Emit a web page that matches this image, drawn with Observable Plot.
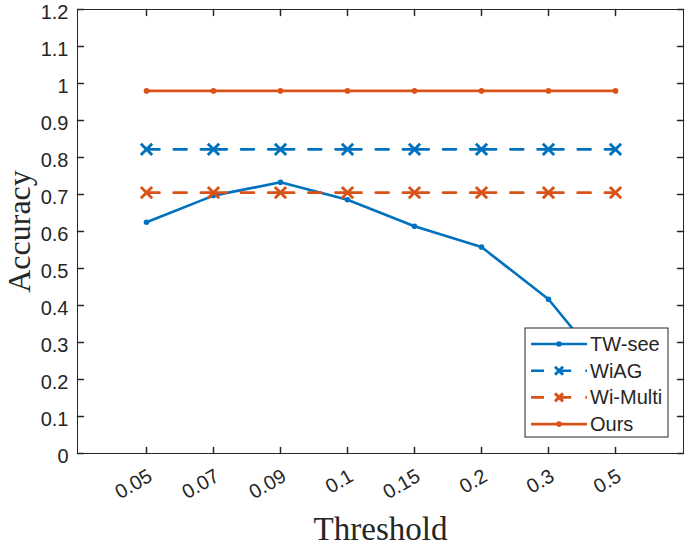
<!DOCTYPE html>
<html><head><meta charset="utf-8">
<script src="https://cdn.jsdelivr.net/npm/d3@7"></script>
<script src="https://cdn.jsdelivr.net/npm/@observablehq/plot@0.6"></script>
<style>html,body{margin:0;padding:0;background:#fff;}</style>
</head><body><div id="chart"></div>
<script>
// ---- data ----
const thresholds = ["0.05", "0.07", "0.09", "0.1", "0.15", "0.2", "0.3", "0.5"];
const twSee   = [0.625, 0.697, 0.733, 0.686, 0.614, 0.558, 0.417, 0.196];
const wiAG    = [0.822, 0.822, 0.822, 0.822, 0.822, 0.822, 0.822, 0.822];
const wiMulti = [0.705, 0.705, 0.705, 0.705, 0.705, 0.705, 0.705, 0.705];
const ours    = [0.98, 0.98, 0.98, 0.98, 0.98, 0.98, 0.98, 0.98];
const seriesNames = ["TW-see", "WiAG", "Wi-Multi", "Ours"];
const yTicks = [0, 0.1, 0.2, 0.3, 0.4, 0.5, 0.6, 0.7, 0.8, 0.9, 1, 1.1, 1.2];
const yLabels = ["0", "0.1", "0.2", "0.3", "0.4", "0.5", "0.6", "0.7", "0.8", "0.9", "1", "1.1", "1.2"];
const xTitle = "Threshold";
const yTitle = "Accuracy";

// ---- styles ----
const BLUE = "#0072BD", ORANGE = "#D95319", AX = "#262626";
const W = 685, H = 548, ML = 77, MR = 2, MT = 9, MB = 95;
const step = (W - ML - MR) / (thresholds.length + 1);
const gap = (step - 39) / 2;
const dashMain = `26,${gap},13,${gap}`;
const dashLegend = `13,${gap}`;
const SERIF = "'Liberation Serif','Times New Roman',serif";
const SANS = "'Liberation Sans',Arial,sans-serif";
const LW = 2.6;

const mk = (vals, name) => thresholds.map((t, i) => ({x: t, y: vals[i], s: name}));
const dTW = mk(twSee, seriesNames[0]);
const dAG = mk(wiAG, seriesNames[1]);
const dMU = mk(wiMulti, seriesNames[2]);
const dOU = mk(ours, seriesNames[3]);

const tickShape = {draw(c, l) { c.moveTo(0, 0); c.lineTo(0, -l); }};
const TL = 6;

const chart = Plot.plot({
  width: W, height: H,
  marginLeft: ML, marginRight: MR, marginTop: MT, marginBottom: MB,
  style: {fontFamily: SANS, fontSize: "20px", background: "white", color: AX},
  x: {type: "point", domain: thresholds, padding: 1, axis: null},
  y: {domain: [0, 1.2], axis: null},
  marks: [
    // lines
    Plot.line(dTW, {x: "x", y: "y", stroke: BLUE, strokeWidth: LW}),
    Plot.dot(dTW, {x: "x", y: "y", fill: BLUE, r: 2.8}),
    Plot.line(dAG, {x: "x", y: "y", stroke: BLUE, strokeWidth: LW, strokeDasharray: dashMain, strokeDashoffset: 13}),
    Plot.dot(dAG, {x: "x", y: "y", symbol: "times", stroke: BLUE, strokeWidth: 2.9, r: 5.2}),
    Plot.line(dMU, {x: "x", y: "y", stroke: ORANGE, strokeWidth: LW, strokeDasharray: dashMain, strokeDashoffset: 13}),
    Plot.dot(dMU, {x: "x", y: "y", symbol: "times", stroke: ORANGE, strokeWidth: 2.9, r: 5.2}),
    Plot.line(dOU, {x: "x", y: "y", stroke: ORANGE, strokeWidth: LW}),
    Plot.dot(dOU, {x: "x", y: "y", fill: ORANGE, r: 2.8}),
    // box
    Plot.frame({stroke: AX, strokeWidth: 1}),
    // inward ticks
    Plot.vector(thresholds, {x: d => d, frameAnchor: "bottom", rotate: 0, length: TL, anchor: "start", shape: tickShape, stroke: AX}),
    Plot.vector(thresholds, {x: d => d, frameAnchor: "top", rotate: 180, length: TL, anchor: "start", shape: tickShape, stroke: AX}),
    Plot.vector(yTicks, {y: d => d, frameAnchor: "left", rotate: 90, length: TL, anchor: "start", shape: tickShape, stroke: AX}),
    Plot.vector(yTicks, {y: d => d, frameAnchor: "right", rotate: -90, length: TL, anchor: "start", shape: tickShape, stroke: AX}),
    // tick labels
    Plot.text(yTicks, {y: d => d, text: (d, i) => yLabels[i], frameAnchor: "left", textAnchor: "end", lineAnchor: "middle", dx: -9, dy: 3, fontSize: 20, fill: AX}),
    Plot.text(thresholds, {x: d => d, text: d => d, frameAnchor: "bottom", rotate: -30, textAnchor: "end", lineAnchor: "middle", dx: 4, dy: 21, fontSize: 20, fill: AX}),
    // axis titles
    Plot.text([xTitle], {text: d => d, frameAnchor: "bottom", textAnchor: "middle", lineAnchor: "bottom", dy: 86, fontSize: 33, fontFamily: SERIF, fill: AX}),
    Plot.text([yTitle], {text: d => d, frameAnchor: "left", rotate: -90, textAnchor: "middle", lineAnchor: "bottom", dx: -48, fontSize: 32, fontFamily: SERIF, fill: AX})
  ]
});
document.getElementById("chart").appendChild(chart);

// ---- legend ----
const right = W - MR, bottom = H - MB;
const bw = 143, bh = 109;
const bx = right - 15 - bw, by = bottom - 16 - bh;
const lg = d3.select(chart).append("g");
lg.append("rect").attr("x", bx).attr("y", by).attr("width", bw).attr("height", bh)
  .attr("fill", "white").attr("stroke", AX).attr("stroke-width", 1);
const legendItems = [
  {name: seriesNames[0], color: BLUE, dash: null, marker: "dot"},
  {name: seriesNames[1], color: BLUE, dash: dashLegend, marker: "x"},
  {name: seriesNames[2], color: ORANGE, dash: dashLegend, marker: "x"},
  {name: seriesNames[3], color: ORANGE, dash: null, marker: "dot"}
];
legendItems.forEach((it, i) => {
  const cy = by + 16 + i * 26.7;
  const x0 = bx + 6, x1 = bx + 62, xm = (x0 + x1) / 2;
  const ln = lg.append("line").attr("x1", x0).attr("x2", x1).attr("y1", cy).attr("y2", cy)
    .attr("stroke", it.color).attr("stroke-width", LW);
  if (it.dash) ln.attr("stroke-dasharray", it.dash);
  if (it.marker === "dot") {
    lg.append("circle").attr("cx", xm).attr("cy", cy).attr("r", 2.8).attr("fill", it.color);
  } else {
    const a = 4;
    lg.append("path").attr("d", `M${xm - a},${cy - a}L${xm + a},${cy + a}M${xm - a},${cy + a}L${xm + a},${cy - a}`)
      .attr("stroke", it.color).attr("stroke-width", 2.9).attr("fill", "none");
  }
  lg.append("text").attr("x", bx + 65).attr("y", cy).attr("dy", "0.35em")
    .attr("text-anchor", "start")
    .attr("font-family", SANS).attr("font-size", 20).attr("fill", AX).text(it.name);
});
</script>
</body></html>
